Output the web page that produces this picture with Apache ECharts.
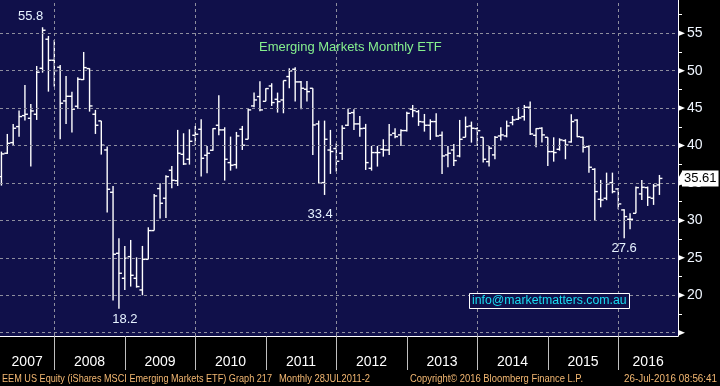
<!DOCTYPE html>
<html><head><meta charset="utf-8">
<script src="https://cdn.jsdelivr.net/npm/echarts@6/dist/echarts.min.js"></script>
<style>html,body{margin:0;padding:0;background:#000}#c{width:720px;height:386px}</style>
</head><body><div id="c"></div>
<script>
const months = [
 '2007-03','2007-04','2007-05','2007-06','2007-07','2007-08','2007-09','2007-10','2007-11','2007-12',
 '2008-01','2008-02','2008-03','2008-04','2008-05','2008-06','2008-07','2008-08','2008-09','2008-10','2008-11','2008-12',
 '2009-01','2009-02','2009-03','2009-04','2009-05','2009-06','2009-07','2009-08','2009-09','2009-10','2009-11','2009-12',
 '2010-01','2010-02','2010-03','2010-04','2010-05','2010-06','2010-07','2010-08','2010-09','2010-10','2010-11','2010-12',
 '2011-01','2011-02','2011-03','2011-04','2011-05','2011-06','2011-07','2011-08','2011-09','2011-10','2011-11','2011-12',
 '2012-01','2012-02','2012-03','2012-04','2012-05','2012-06','2012-07','2012-08','2012-09','2012-10','2012-11','2012-12',
 '2013-01','2013-02','2013-03','2013-04','2013-05','2013-06','2013-07','2013-08','2013-09','2013-10','2013-11','2013-12',
 '2014-01','2014-02','2014-03','2014-04','2014-05','2014-06','2014-07','2014-08','2014-09','2014-10','2014-11','2014-12',
 '2015-01','2015-02','2015-03','2015-04','2015-05','2015-06','2015-07','2015-08','2015-09','2015-10','2015-11','2015-12',
 '2016-01','2016-02','2016-03','2016-04','2016-05','2016-06','2016-07'
];
const openV = [
 35.85,38.97,40.39,42.53,44.00,43.64,44.18,50.32,54.20,51.39,
 50.46,45.96,46.58,45.25,48.81,50.28,44.18,43.29,39.41,33.76,25.61,22.27,
 25.16,22.27,20.71,24.80,28.64,34.25,32.96,36.70,35.30,38.83,38.17,41.37,
 42.17,38.70,39.37,42.71,42.09,37.72,37.45,42.17,40.84,45.29,46.54,45.91,
 47.96,46.18,46.09,49.21,50.19,48.50,47.52,47.65,42.89,35.05,39.40,39.60,
 38.97,42.71,44.40,42.89,42.31,36.96,39.06,39.50,39.41,41.64,41.42,42.00,
 44.85,44.53,43.15,42.71,43.20,41.37,38.75,39.41,38.61,41.10,42.62,42.26,
 41.10,37.85,38.75,41.28,41.28,43.06,43.51,43.87,45.11,41.37,42.31,41.10,
 39.19,39.50,40.66,40.48,43.40,41.10,39.86,36.83,32.82,32.96,35.05,34.20,
 31.40,30.15,30.95,33.54,34.38,32.96,34.74
];
const highV = [
 39.19,41.55,42.89,44.67,48.10,45.56,50.63,55.80,54.64,54.10,
 50.77,49.30,47.20,49.12,52.50,50.32,44.76,43.29,39.86,34.60,27.61,26.59,
 27.39,25.07,26.59,29.08,33.54,34.96,36.03,37.28,42.09,41.64,42.17,42.62,
 43.51,39.95,42.31,46.72,42.44,41.19,41.82,42.62,44.98,47.07,48.59,47.65,
 48.32,47.07,48.68,50.32,50.46,48.63,48.63,47.65,43.33,43.33,42.09,40.30,
 42.71,44.93,44.85,43.96,42.89,39.95,39.95,40.84,42.89,42.31,42.17,44.53,
 45.42,44.76,44.22,43.51,44.31,41.86,39.95,40.21,43.42,43.87,43.20,42.44,
 41.10,39.95,41.28,42.44,43.33,43.96,45.11,45.42,45.87,42.31,42.44,41.10,
 41.10,40.97,40.84,44.18,43.51,41.19,39.95,36.96,35.41,36.38,36.38,34.29,
 31.49,30.95,34.52,35.41,34.52,34.87,36.07
];
const lowV = [
 34.65,38.88,40.08,41.19,43.33,37.19,43.42,49.74,47.20,47.87,
 40.84,42.89,41.73,44.90,48.76,44.53,41.55,38.79,31.04,19.30,18.20,20.71,
 21.16,21.02,20.00,24.80,28.64,30.24,30.33,34.29,34.60,37.40,37.45,40.08,
 35.85,36.30,39.32,41.37,35.32,36.65,36.92,39.41,40.84,45.11,44.58,45.91,
 45.29,44.40,44.31,47.65,45.87,44.85,45.87,38.75,34.87,33.40,36.21,36.52,
 38.08,42.62,42.09,41.19,36.74,36.65,37.19,38.52,38.75,40.97,39.95,41.86,
 43.78,42.62,41.86,40.75,41.19,36.21,37.10,37.28,38.43,41.10,40.39,39.95,
 37.72,37.19,38.17,40.66,41.10,42.71,43.42,43.33,41.42,39.77,40.39,37.28,
 37.85,39.32,38.17,40.39,41.10,39.06,36.38,30.06,31.75,32.70,33.62,31.49,
 27.60,28.81,30.95,32.73,31.93,32.07,33.40
];
const closeV = [
 38.88,40.30,42.31,43.87,44.18,44.62,49.79,55.40,51.39,50.01,
 45.65,46.58,44.85,48.85,50.41,45.29,42.71,40.04,34.16,25.48,22.94,24.94,
 22.67,21.16,24.80,28.64,33.27,32.29,35.85,35.36,38.97,37.54,40.57,41.51,
 38.30,38.97,42.26,42.09,38.17,37.37,41.28,40.04,44.76,46.09,44.76,47.61,
 45.74,45.87,48.68,49.97,48.50,47.65,47.20,42.75,34.96,40.84,39.20,37.90,
 42.31,44.31,42.89,42.26,37.72,39.06,39.06,39.41,41.42,41.19,42.00,44.31,
 44.67,43.20,42.71,43.20,41.28,38.61,38.97,37.99,40.84,42.53,42.31,41.99,
 38.17,39.64,41.10,41.42,42.62,43.42,43.69,45.11,41.55,42.26,41.42,39.19,
 39.06,40.75,40.08,43.20,41.19,39.77,37.10,33.85,32.73,34.87,33.85,32.20,
 30.51,30.15,34.38,34.43,33.09,34.60,35.61
];
const years = ['2007','2008','2009','2010','2011','2012','2013','2014','2015','2016'];
const yLabelValues = [20,25,30,35,40,45,50,55];
const yMajorTicks = [15,20,25,30,35,40,45,50,55];
const yMinorTicks = [17.5,22.5,27.5,32.5,37.5,42.5,47.5,52.5,57.5];
const gridYears = ['2008','2010','2012','2014','2016'];
const annotations = [
 {month:'2007-10', value:55.8, text:'55.8'},
 {month:'2008-11', value:18.2, text:'18.2'},
 {month:'2011-10', value:33.4, text:'33.4'},
 {month:'2016-01', value:27.6, text:'27.6'}
];
const lastPrice = 35.61;
const titleText = 'Emerging Markets Monthly ETF';
const emailText = 'info@marketmatters.com.au';
const footer = ['EEM US Equity (iShares MSCI Emerging Markets ETF) Graph 217','Monthly 28JUL2011-2','Copyright\u00a9 2016 Bloomberg Finance L.P.','26-Jul-2016 08:56:41'];

// layout constants
const X_MIN = 2.757, X_MAX = 118.16, Y_MIN = 14.56, Y_MAX = 59.44;
const footerBoxes = [[2,270],[279,91],[410,173],[624,93]]; // [left, width]
function monthPos(s){ const p = s.split('-').map(Number); return (p[0]-2007)*12 + p[1]; }
function yearStart(y){ return (Number(y)-2007)*12; }

const data = months.map((m,i)=>[monthPos(m), openV[i], highV[i], lowV[i], closeV[i]]);
const yearBounds = years.slice(1).map(yearStart);
const yearCenters = years.map(y=>{ const a=Math.max(X_MIN, yearStart(y)), b=Math.min(X_MAX, yearStart(y)+12); return (a+b)/2; });
const FONT = "'Liberation Sans', Arial, sans-serif";
const FOOT_FONT = "11px 'Liberation Sans', Arial, sans-serif";
const mctx = document.createElement('canvas').getContext('2d');
mctx.font = FOOT_FONT;
const footerGraphics = footer.map((t,i)=>{
  const w = mctx.measureText(t).width;
  return {type:'text', x:footerBoxes[i][0], y:379, scaleX:footerBoxes[i][1]/w, silent:true,
    style:{text:t, fill:'#f4b872', font:FOOT_FONT, verticalAlign:'middle', align:'left'}};
});

const annOffsets = [[-12,-11],[6,11],[-4.5,19],[0,10]];

const chart = echarts.init(document.getElementById('c'), null, {renderer:'canvas', width:720, height:386});
chart.setOption({
  animation:false,
  backgroundColor:'#000000',
  textStyle:{fontFamily:FONT},
  grid:{left:0, right:42, top:0, bottom:50, show:true, backgroundColor:'#10104a', borderWidth:0},
  title:[
    {text:titleText, left:254, top:36, textStyle:{color:'#86f08e', fontSize:13, fontWeight:'normal', fontFamily:FONT}},
    {text:emailText, left:469, top:293, padding:[2,3,2,3], borderColor:'#ffffff', borderWidth:1, backgroundColor:'#10104a',
     textStyle:{color:'#19dcf0', fontSize:12.3, fontWeight:'normal', fontFamily:FONT}}
  ],
  graphic:footerGraphics,
  xAxis:{
    type:'value', min:X_MIN, max:X_MAX, position:'bottom',
    axisLine:{show:true, lineStyle:{color:'#ffffff', width:1}},
    axisTick:{show:true, customValues:yearBounds, length:34, lineStyle:{color:'#c0c0c0', width:1}},
    axisLabel:{show:true, customValues:yearCenters, margin:19, color:'#ffffff', fontSize:14, fontFamily:FONT,
      formatter:v=>years[Math.floor(v/12)]},
    splitLine:{show:false}
  },
  yAxis:[
    {type:'value', position:'right', min:Y_MIN, max:Y_MAX,
     axisLine:{show:true, lineStyle:{color:'#ffffff', width:1}},
     axisTick:{show:false},
     axisLabel:{show:true, customValues:yLabelValues, margin:9, color:'#f0f6ff', fontSize:14, fontFamily:FONT},
     splitLine:{show:false}},
    {type:'value', position:'right', min:Y_MIN, max:Y_MAX, offset:0,
     axisLine:{show:false},
     axisTick:{show:true, customValues:yMinorTicks, length:4, inside:false, lineStyle:{color:'#ffffff', width:1}},
     axisLabel:{show:false}, splitLine:{show:false}}
  ],
  series:[
    {type:'line', data:[], z:1, silent:true,
     markLine:{silent:true, symbol:['none','none'], label:{show:false}, animation:false,
       lineStyle:{color:'#8e8e9e', type:[3,3], width:1},
       data:[...yMajorTicks.map(v=>({yAxis:v})), ...gridYears.map(y=>({xAxis:yearStart(y)}))]},
     markPoint:{silent:true, symbol:'triangle', symbolRotate:-90, symbolSize:[6,7], animation:false,
       itemStyle:{color:'#ffffff'}, label:{show:false},
       data:yMajorTicks.map(v=>({coord:[X_MAX, v], symbolOffset:[3.5,0]}))}
    },
    {type:'custom', z:3, clip:true, silent:true,
     encode:{x:0, y:[1,2,3,4]},
     data:data,
     renderItem:function(params, api){
       const t = api.value(0);
       const pO = api.coord([t, api.value(1)]);
       const pH = api.coord([t, api.value(2)]);
       const pL = api.coord([t, api.value(3)]);
       const pC = api.coord([t, api.value(4)]);
       const x = pH[0];
       const st = {stroke:'#ffffff', lineWidth:1.4};
       return {type:'group', children:[
         {type:'line', shape:{x1:x, y1:pH[1], x2:x, y2:pL[1]}, style:st},
         {type:'line', shape:{x1:x-3, y1:pO[1], x2:x, y2:pO[1]}, style:st},
         {type:'line', shape:{x1:x, y1:pC[1], x2:x+3, y2:pC[1]}, style:st}
       ]};
     },
     markPoint:{silent:true, animation:false, symbol:'circle', symbolSize:1, itemStyle:{color:'rgba(0,0,0,0)'},
       label:{show:true, position:'inside', color:'#e6f2ff', fontSize:13, fontFamily:FONT},
       data:annotations.map((a,i)=>({coord:[monthPos(a.month), a.value], label:{formatter:a.text, offset:annOffsets[i]}}))}
    }
  ]
});

// last-price tag on the right axis, positioned through the axis scale
const py = chart.convertToPixel({yAxisIndex:0}, lastPrice);
const px = chart.convertToPixel({xAxisIndex:0}, X_MAX);
chart.setOption({
  graphic:[
    ...footerGraphics,
    {type:'polygon', silent:true, z:100, shape:{points:[[px, py], [px+4, py-7], [px+4, py+7]]}, style:{fill:'#ffffff'}},
    {type:'text', silent:true, z:100, x:px+4, y:py, style:{text:String(lastPrice), fill:'#000000', backgroundColor:'#ffffff',
      padding:[2,2,1,2], font:"13px 'Liberation Sans', Arial, sans-serif", verticalAlign:'middle', align:'left'}}
  ]
});
</script></body></html>
